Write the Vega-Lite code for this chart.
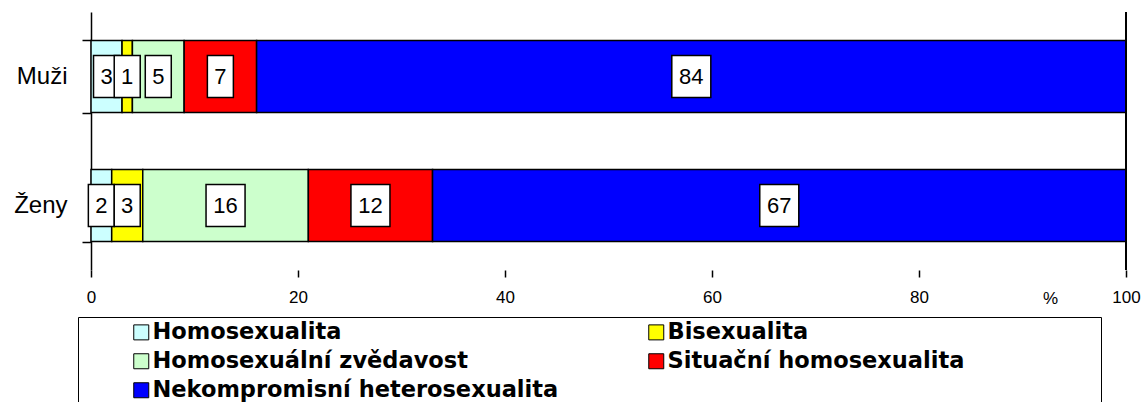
{
  "$schema": "https://vega.github.io/schema/vega-lite/v6.json",
  "width": 1035,
  "height": 258,
  "autosize": {"type": "none"},
  "padding": {"left": 91, "top": 12, "right": 19, "bottom": 132},
  "background": "white",
  "config": {"view": {"stroke": null}, "font": "Liberation Sans"},
  "data": {
    "values": [
      {"g": "Muži", "c": "Homosexualita", "k": 1, "v": 3},
      {"g": "Muži", "c": "Bisexualita", "k": 2, "v": 1},
      {"g": "Muži", "c": "Homosexuální zvědavost", "k": 3, "v": 5},
      {"g": "Muži", "c": "Situační homosexualita", "k": 4, "v": 7},
      {"g": "Muži", "c": "Nekompromisní heterosexualita", "k": 5, "v": 84},
      {"g": "Ženy", "c": "Homosexualita", "k": 1, "v": 2},
      {"g": "Ženy", "c": "Bisexualita", "k": 2, "v": 3},
      {"g": "Ženy", "c": "Homosexuální zvědavost", "k": 3, "v": 16},
      {"g": "Ženy", "c": "Situační homosexualita", "k": 4, "v": 12},
      {"g": "Ženy", "c": "Nekompromisní heterosexualita", "k": 5, "v": 67}
    ]
  },
  "encoding": {
    "y": {
      "field": "g", "type": "nominal", "sort": ["Muži", "Ženy"],
      "scale": {"paddingInner": 0.44, "paddingOuter": 0.22},
      "axis": {
        "title": null, "labelFontSize": 24, "labelColor": "black",
        "tickBand": "extent", "tickSize": 9, "tickColor": "black", "tickWidth": 1.5,
        "domainColor": "black", "domainWidth": 1.5, "labelPadding": 15
      }
    }
  },
  "layer": [
    {
      "mark": {"type": "bar", "stroke": "black", "strokeWidth": 1.5, "opacity": 1},
      "encoding": {
        "x": {
          "field": "v", "type": "quantitative", "stack": "zero",
          "scale": {"domain": [0, 100], "nice": false},
          "axis": {
            "title": "%", "values": [0, 20, 40, 60, 80, 100], "grid": false, "domain": false,
            "tickSize": 7, "tickColor": "black", "tickWidth": 1.5, "labelFlush": false,
            "labelFontSize": 17, "labelColor": "black", "labelPadding": 12,
            "titleFontSize": 17, "titleFontWeight": "normal", "titleColor": "black",
            "titleX": 959, "titleY": 28, "titleBaseline": "middle", "titleAlign": "center"
          }
        },
        "order": {"field": "k", "type": "quantitative"},
        "color": {
          "field": "c", "type": "nominal",
          "scale": {
            "domain": ["Homosexualita", "Bisexualita", "Homosexuální zvědavost", "Situační homosexualita", "Nekompromisní heterosexualita"],
            "range": ["#CCFFFF", "#FFFF00", "#CCFFCC", "#FF0000", "#0000FF"]
          },
          "legend": {
            "title": "\u2800\u2800\u2800\u2800\u2800\u2800\u2800\u2800",
            "titleOrient": "right", "titleFontSize": 20.3, "titlePadding": 6, "titleFont": "DejaVu Sans",
            "titleLimit": 2000,
            "orient": "none", "legendX": -13, "legendY": 305,
            "direction": "horizontal", "columns": 2, "columnPadding": 38, "rowPadding": 6,
            "symbolType": "square", "symbolSize": 225,
            "symbolStrokeColor": "black", "symbolStrokeWidth": 1,
            "symbolOffset": 48, "labelOffset": 0,
            "labelFont": "DejaVu Sans", "labelFontWeight": "bold", "labelFontSize": 22.5,
            "labelColor": "black", "labelLimit": 0,
            "padding": 4, "strokeColor": "black", "fillColor": "white"
          }
        }
      }
    },
    {
      "transform": [
        {"stack": "v", "groupby": ["g"], "sort": [{"field": "k", "order": "ascending"}], "as": ["x0", "x1"]},
        {"fold": ["x0", "x1"], "as": ["edge", "pos"]}
      ],
      "layer": [
        {
          "mark": {"type": "point", "filled": true, "fill": "white", "stroke": "black", "strokeWidth": 1.5, "opacity": 1, "size": 1764},
          "encoding": {
            "x": {"field": "pos", "type": "quantitative", "aggregate": "mean"},
            "detail": [{"field": "c"}, {"field": "v"}],
            "shape": {
              "condition": {"test": "datum.v < 10", "value": "M-0.619,-1H0.619V1H-0.619Z"},
              "value": "M-0.929,-1H0.929V1H-0.929Z"
            }
          }
        },
        {
          "mark": {"type": "text", "fontSize": 22, "color": "black", "baseline": "middle"},
          "encoding": {
            "x": {"field": "pos", "type": "quantitative", "aggregate": "mean"},
            "detail": [{"field": "c"}, {"field": "v"}],
            "text": {"field": "v", "type": "quantitative"}
          }
        }
      ]
    },
    {
      "mark": {"type": "rule", "stroke": "black", "strokeWidth": 1.5},
      "encoding": {"x": {"datum": 100, "type": "quantitative"}, "y": null}
    }
  ]
}
